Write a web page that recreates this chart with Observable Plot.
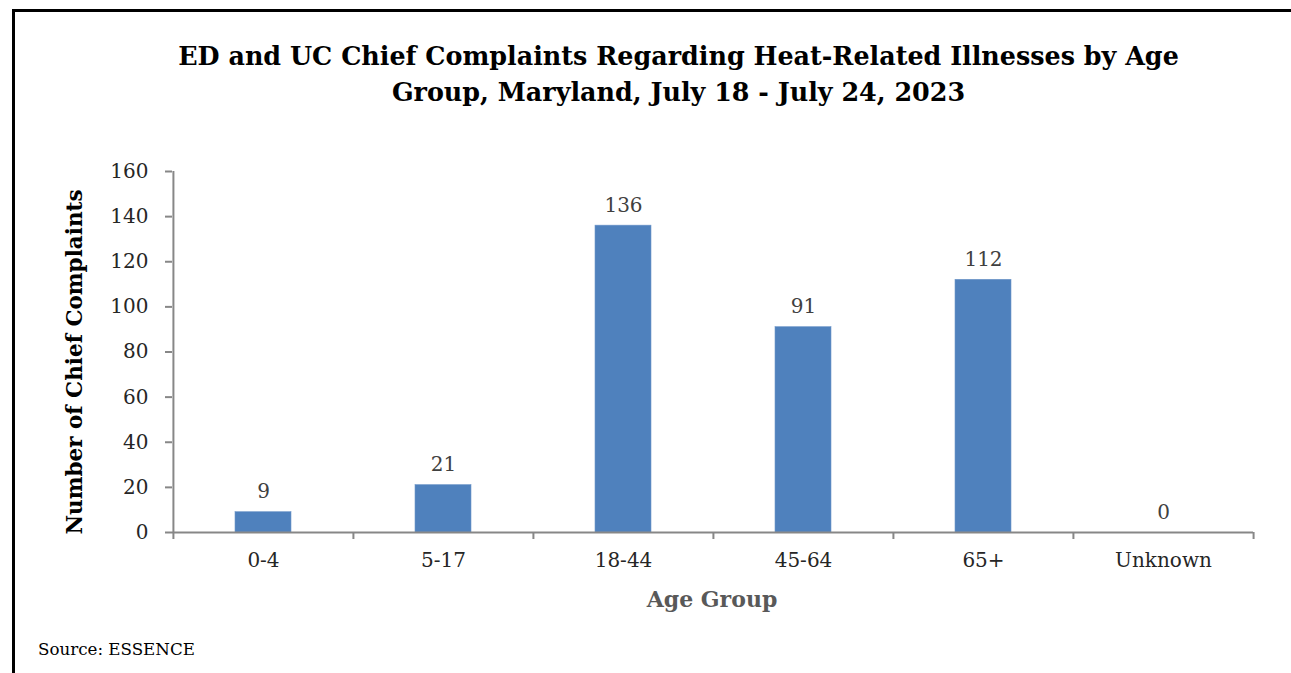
<!DOCTYPE html>
<html>
<head>
<meta charset="utf-8">
<script src="https://cdn.jsdelivr.net/npm/d3@7"></script>
<script src="https://cdn.jsdelivr.net/npm/@observablehq/plot@0.6"></script>
<style>
  html, body { margin: 0; padding: 0; background: #fff; }
  #page { position: relative; width: 1291px; height: 673px; overflow: hidden; font-family: "DejaVu Serif", serif; }
  #frame { position: absolute; left: 12px; top: 9px; width: 1400px; height: 800px; border-left: 3px solid #000; border-top: 3px solid #000; }
  #title { position: absolute; left: 0; width: 1357px; top: 38px; text-align: center; font-weight: bold; font-size: 25.4px; line-height: 36px; color: #000; }
  #chart { position: absolute; left: 0; top: 140px; }
  #ylabel { position: absolute; left: 74px; top: 362px; transform: translate(-50%, -50%) rotate(-90deg); white-space: nowrap; font-weight: bold; font-size: 21.5px; color: #000; }
  #xlabel { position: absolute; left: 0; width: 1424px; top: 586px; text-align: center; font-weight: bold; font-size: 22px; color: #595959; }
  #source { position: absolute; left: 38px; top: 639px; font-size: 16.7px; color: #000; }
</style>
</head>
<body>
<div id="page">
  <div id="frame"></div>
  <div id="title">ED and UC Chief Complaints Regarding Heat-Related Illnesses by Age<br>Group, Maryland, July 18 - July 24, 2023</div>
  <div id="chart"></div>
  <div id="ylabel">Number of Chief Complaints</div>
  <div id="xlabel">Age Group</div>
  <div id="source">Source: ESSENCE</div>
</div>
<script>
const ageGroups = ["0-4", "5-17", "18-44", "45-64", "65+", "Unknown"];
const complaints = [9, 21, 136, 91, 112, 0];
const yTicks = [0, 20, 40, 60, 80, 100, 120, 140, 160];

const data = ageGroups.map((g, i) => ({group: g, value: complaints[i]}));

const W = 1291, H = 500, mL = 172, mR = 38, mT = 31, mB = 108;
const step = (W - mL - mR) / ageGroups.length;
const axisColor = "#878787";

const chart = Plot.plot({
  width: W,
  height: H,
  marginLeft: mL,
  marginRight: mR,
  marginTop: mT,
  marginBottom: mB,
  style: {fontFamily: "DejaVu Serif, serif", fontSize: "20px", background: "transparent"},
  x: {domain: ageGroups, paddingInner: 0.69, paddingOuter: 0.345, axis: null},
  y: {domain: [0, 160], axis: null},
  marks: [
    Plot.barY(data, {x: "group", y: "value", fill: "#4f81bd", stroke: "#6f97c9", strokeWidth: 0.6}),
    // y axis line
    Plot.ruleX([ageGroups[0]], {y1: 0, y2: 160, dx: -step / 2, stroke: axisColor, strokeWidth: 2}),
    // x axis baseline
    Plot.ruleY([0], {stroke: axisColor, strokeWidth: 2}),
    // x boundary ticks
    Plot.ruleX(ageGroups, {x: d => d, y1: 0, y2: 0, insetBottom: -7, dx: -step / 2, stroke: axisColor, strokeWidth: 2}),
    Plot.ruleX([ageGroups[ageGroups.length - 1]], {y1: 0, y2: 0, insetBottom: -7, dx: step / 2, stroke: axisColor, strokeWidth: 2}),
    Plot.axisY(yTicks, {tickSize: 7, tickPadding: 17, stroke: axisColor, strokeWidth: 2, fill: "#262626", fontSize: 20, label: null, tickFormat: d => String(d)}),
    Plot.axisX(ageGroups, {tickSize: 0, tickPadding: 20, fill: "#262626", fontSize: 20, label: null}),
    Plot.text(data, {x: "group", y: "value", text: d => String(d.value), lineAnchor: "bottom", dy: -14, fill: "#404040", fontSize: 20})
  ]
});
document.getElementById("chart").appendChild(chart);
</script>
</body>
</html>
